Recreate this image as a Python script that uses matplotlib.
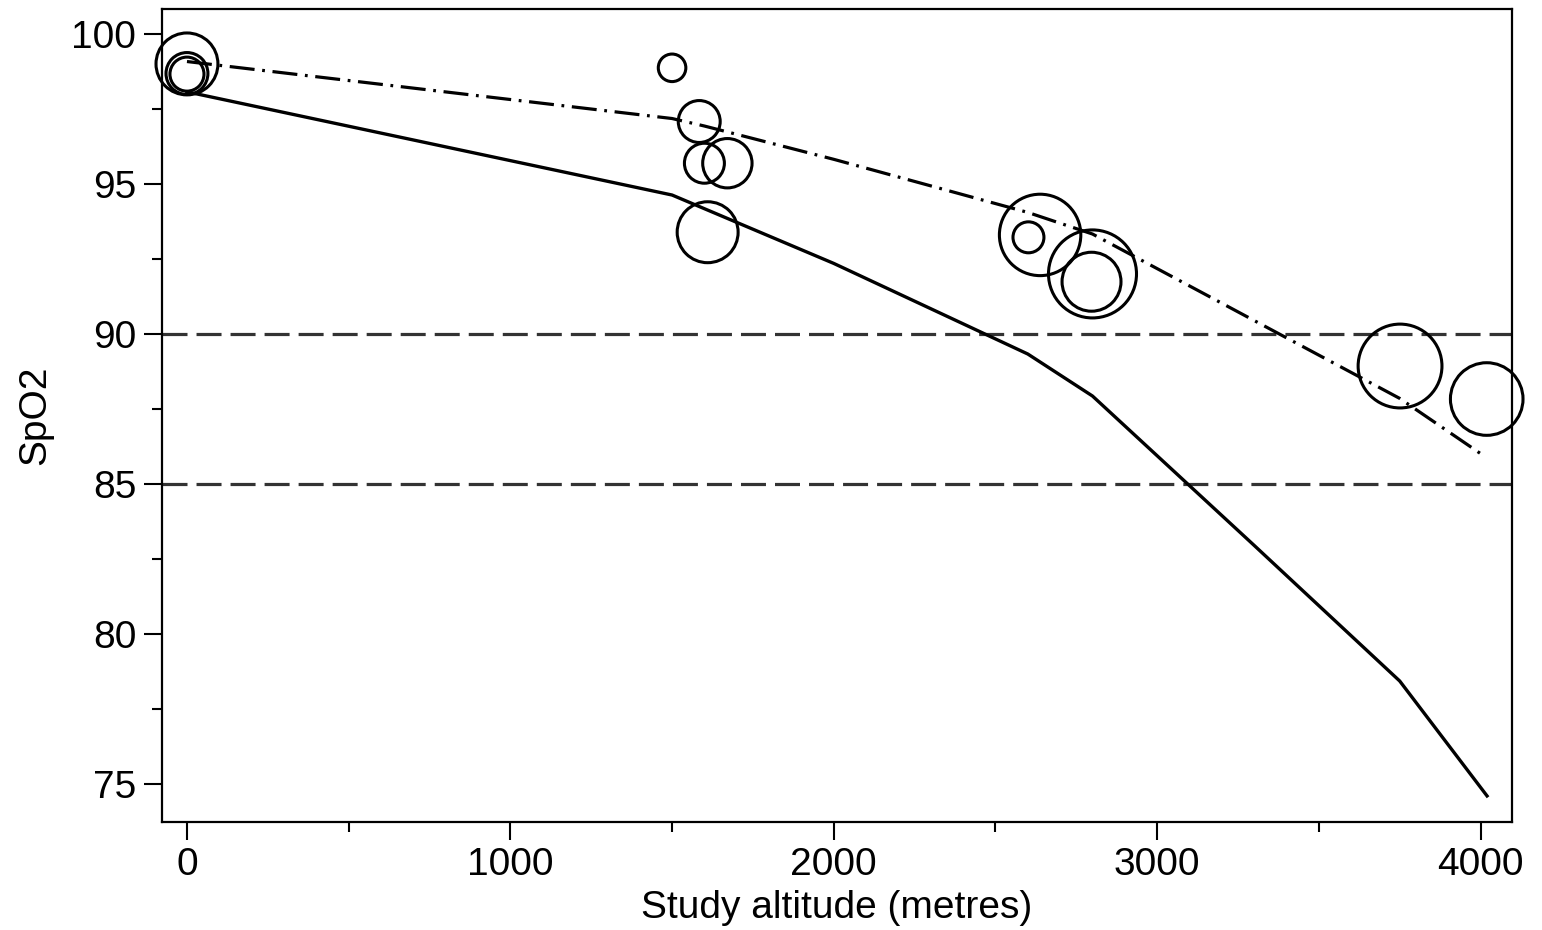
import numpy as np
import matplotlib
matplotlib.use("Agg")
import matplotlib.pyplot as plt

# study-level observations (altitude in metres, mean SpO2, relative study weight)
study_altitude = [0, 0, 0, 1500, 1584, 1600, 1671, 1610, 2638, 2602, 2800, 2797, 3751, 4019]
study_spo2 = [99.0, 98.68, 98.66, 98.87, 97.08, 95.69, 95.69, 93.39, 93.3, 93.22, 92.0, 91.74, 88.93, 87.83]
study_weight = [9.6, 4.4, 2.9, 1.9, 4.4, 4.0, 6.1, 9.3, 16.6, 2.4, 19.4, 8.7, 17.6, 13.2]

# lower limit curve (solid)
lower_alt = [0, 1500, 2000, 2600, 2800, 3300, 3750, 4020]
lower_spo2 = [98.07, 94.63, 92.35, 89.33, 87.93, 82.95, 78.43, 74.6]

# mean curve (dash-dot)
mean_alt = [0, 1500, 1600, 2000, 2600, 2800, 3750, 4015]
mean_spo2 = [99.08, 97.18, 96.93, 95.82, 94.05, 93.33, 87.85, 85.9]

# reference thresholds
thresholds = [90, 85]

plt.rcParams['font.family'] = ['Liberation Sans', 'DejaVu Sans']
plt.rcParams['lines.scale_dashes'] = False

fig = plt.figure(figsize=(15.42, 9.3), dpi=100)
ax = fig.add_axes([0.1051, 0.1161, 0.9803 - 0.1051, 0.9903 - 0.1161])

for t in thresholds:
    ax.axhline(t, color='#333333', lw=2.3, dashes=(18, 6.5), zorder=1)

ax.plot(lower_alt, lower_spo2, color='black', lw=2.4, solid_joinstyle='round', zorder=2)
ax.plot(mean_alt, mean_spo2, color='black', lw=2.3, dashes=(18, 5.5, 2, 5.5), zorder=2)

sizes = np.array(study_weight) * 207.0
ax.scatter(study_altitude, study_spo2, s=sizes, facecolors='none', edgecolors='black',
           linewidths=2.2, clip_on=False, zorder=3)

ax.set_xlim(-77, 4096)
ax.set_ylim(73.73, 100.83)
ax.set_xticks([0, 1000, 2000, 3000, 4000])
ax.set_xticks([500, 1500, 2500, 3500], minor=True)
ax.set_yticks([75, 80, 85, 90, 95, 100])
ax.set_yticks([77.5, 82.5, 87.5, 92.5, 97.5], minor=True)

for s in ax.spines.values():
    s.set_linewidth(1.6)
ax.tick_params(which='major', length=13, width=1.5, labelsize=28, direction='out')
ax.tick_params(which='minor', length=7, width=1.5, direction='out')
ax.tick_params(axis='x', pad=5)
ax.tick_params(axis='y', pad=5.5)

ax.set_xlabel('Study altitude (metres)', fontsize=28, labelpad=5)
ax.set_ylabel('SpO2', fontsize=28, labelpad=13)

fig.savefig('out.png', dpi=100, facecolor='white')
